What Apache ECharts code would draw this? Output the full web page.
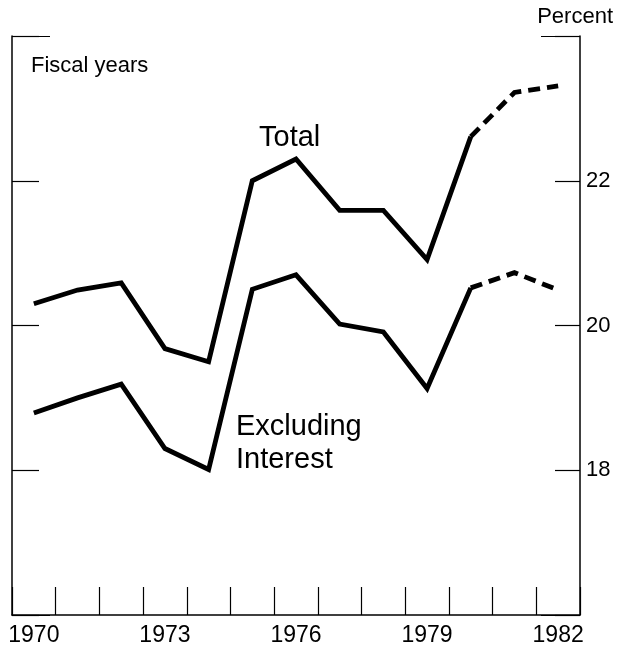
<!DOCTYPE html>
<html>
<head>
<meta charset="utf-8">
<script src="https://cdn.jsdelivr.net/npm/echarts@6/dist/echarts.min.js"></script>
<style>
html,body{margin:0;padding:0;background:#fff;}
#c{width:617px;height:648px;}
</style>
</head>
<body>
<div id="c"></div>
<script>
var years = ['1970','1971','1972','1973','1974','1975','1976','1977','1978','1979','1980','1981','1982'];
var total = [20.30, 20.49, 20.59, 19.68, 19.50, 22.00, 22.30, 21.59, 21.59, 20.91, 22.61, 23.22, 23.31];
var excludingInterest = [18.79, 19.00, 19.19, 18.30, 18.01, 20.50, 20.70, 20.02, 19.91, 19.13, 20.52, 20.73, 20.49];
var yTickLabels = [18, 20, 22];
var projectedFrom = '1980';

var FONT = "'Liberation Sans', Arial, Helvetica, sans-serif";
var pIdx = years.indexOf(projectedFrom);
function solidPart(arr){ return arr.map(function(v,i){ return i <= pIdx ? v : null; }); }
function dashPart(arr){ return arr.map(function(v,i){ return i >= pIdx ? v : null; }); }

var chart = echarts.init(document.getElementById('c'), null, {renderer:'canvas'});
var lineStyleSolid = {color:'#000', width:4.8, type:'solid', join:'miter'};
var lineStyleDash = {color:'#000', width:4.8, type:[12,7], join:'miter'};
function baseY(pos, tickLen, interval, showLine, showLabels){
  return {
    type:'value', position:pos, min:16, max:24, interval:interval,
    axisLine:{show:showLine, lineStyle:{color:'#000', width:1.5}},
    axisTick:{show:true, inside:true, length:tickLen, lineStyle:{color:'#000', width:1.2}},
    axisLabel:{show:showLabels, color:'#000', fontFamily:FONT, fontSize:22, margin:6,
      formatter:function(v){ return yTickLabels.indexOf(v) >= 0 ? String(v) : ''; }},
    splitLine:{show:false}
  };
}
chart.setOption({
  animation:false,
  backgroundColor:'#fff',
  grid:{left:12, right:37, top:36, bottom:33},
  xAxis:{
    type:'category', data:years, boundaryGap:true,
    axisLine:{lineStyle:{color:'#000', width:1.5}},
    axisTick:{show:true, inside:true, length:28, interval:0, lineStyle:{color:'#000', width:1.2}},
    axisLabel:{interval:2, color:'#000', fontFamily:FONT, fontSize:23, margin:9},
    splitLine:{show:false}
  },
  yAxis:[
    baseY('right', 25, 2, true, true),
    baseY('left', 27, 2, true, false),
    baseY('left', 38, 8, false, false),
    baseY('right', 39, 8, false, false)
  ],
  series:[
    {type:'line', name:'Total', data:solidPart(total), yAxisIndex:0, symbol:'none', lineStyle:lineStyleSolid},
    {type:'line', name:'Total projected', data:dashPart(total), yAxisIndex:0, symbol:'none', lineStyle:lineStyleDash},
    {type:'line', name:'Excluding Interest', data:solidPart(excludingInterest), yAxisIndex:0, symbol:'none', lineStyle:lineStyleSolid},
    {type:'line', name:'Excluding Interest projected', data:dashPart(excludingInterest), yAxisIndex:0, symbol:'none', lineStyle:lineStyleDash}
  ],
  graphic:[
    {type:'text', left:31, top:55, style:{text:'Fiscal years', fill:'#000', font:'22px ' + FONT}},
    {type:'text', right:4, top:6, style:{text:'Percent', fill:'#000', font:'22px ' + FONT}},
    {type:'text', left:259, top:123, style:{text:'Total', fill:'#000', font:'29px ' + FONT}},
    {type:'text', left:236, top:410, style:{text:'Excluding\nInterest', fill:'#000', font:'29px ' + FONT, lineHeight:33}}
  ]
});
</script>
</body>
</html>
